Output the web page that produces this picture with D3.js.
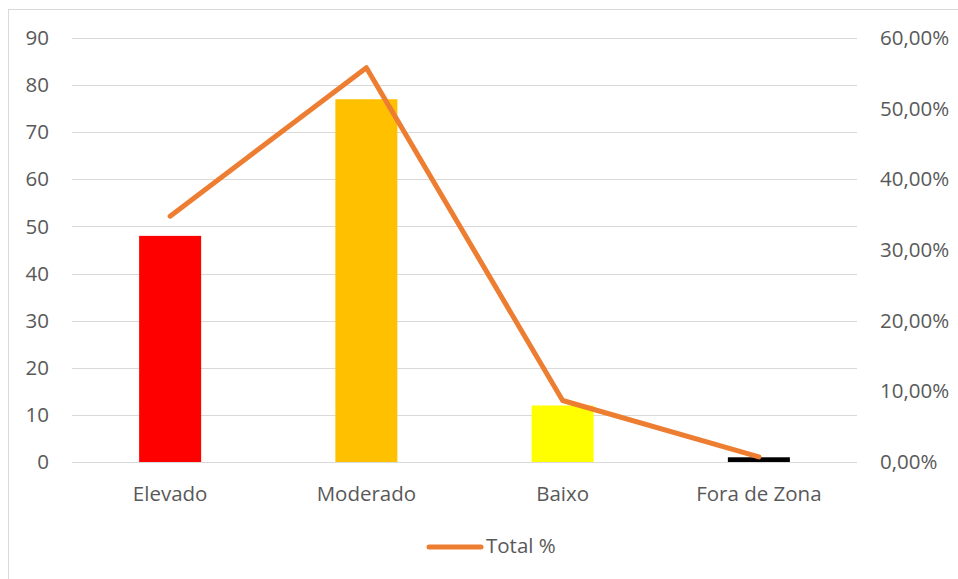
<!DOCTYPE html>
<html>
<head>
<meta charset="utf-8">
<script src="https://cdn.jsdelivr.net/npm/d3@7"></script>
<style>
  html, body { margin: 0; padding: 0; background: #fff; }
  svg { display: block; }
  svg text { font-family: "Open Sans", "Noto Sans", "DejaVu Sans"; }
</style>
</head>
<body>
<svg id="chart" width="958" height="579"></svg>
<script>
// Risk zone counts (bars, left axis) and share of total (line, right axis)
const categories = ["Elevado", "Moderado", "Baixo", "Fora de Zona"];
const counts = [48, 77, 12, 1];
const barColors = ["#FF0000", "#FFC000", "#FFFF00", "#000000"];
const totalPct = [0.3478, 0.5580, 0.0870, 0.0072];
const leftTicks = [0, 10, 20, 30, 40, 50, 60, 70, 80, 90];
const rightTicks = [0, 0.1, 0.2, 0.3, 0.4, 0.5, 0.6];
const lineLabel = "Total %";

const svg = d3.select("#chart");
const W = 958, H = 579;
const plot = { left: 72, right: 857, top: 38, bottom: 462 };
const FS = 20.5;
const FONT = '"Open Sans", "Noto Sans", "DejaVu Sans"';
const TEXT = "#595959";

// outer chart frame
svg.append("rect")
  .attr("x", 8.5).attr("y", 9.5)
  .attr("width", W + 10).attr("height", H + 10)
  .attr("fill", "#fff").attr("stroke", "#d9d9d9").attr("stroke-width", 1);

const x = d3.scaleBand().domain(categories).range([plot.left, plot.right]).paddingInner(0.684).paddingOuter(0.342);
const xc = d3.scaleBand().domain(categories).range([plot.left, plot.right]);
const yL = d3.scaleLinear().domain([0, 90]).range([plot.bottom, plot.top]);
const yR = d3.scaleLinear().domain([0, 0.6]).range([plot.bottom, plot.top]);

// horizontal gridlines
svg.append("g").selectAll("line").data(leftTicks).join("line")
  .attr("x1", plot.left).attr("x2", plot.right)
  .attr("y1", d => Math.round(yL(d)) + 0.5).attr("y2", d => Math.round(yL(d)) + 0.5)
  .attr("stroke", "#d9d9d9").attr("stroke-width", 1);

const fmtPct = v => (v * 100).toFixed(2).replace(".", ",") + "%";

function styleAxis(g) {
  g.attr("font-family", FONT).attr("font-size", FS);
  g.select(".domain").remove();
  g.selectAll("text").attr("fill", TEXT).attr("font-family", FONT).attr("font-size", FS);
}

// left axis
svg.append("g").attr("transform", `translate(49,0)`)
  .call(d3.axisLeft(yL).tickValues(leftTicks).tickSize(0).tickPadding(0))
  .call(styleAxis);

// right axis
svg.append("g").attr("transform", `translate(880,0)`)
  .call(d3.axisRight(yR).tickValues(rightTicks).tickFormat(fmtPct).tickSize(0).tickPadding(0))
  .call(styleAxis);

// category axis
svg.append("g").attr("transform", `translate(0,501)`)
  .call(d3.axisBottom(xc).tickSize(0).tickPadding(0))
  .call(styleAxis)
  .selectAll("text").attr("y", 0).attr("dy", 0);

// bars
svg.append("g").selectAll("rect").data(categories).join("rect")
  .attr("x", d => x(d))
  .attr("width", x.bandwidth())
  .attr("y", (d, i) => yL(counts[i]))
  .attr("height", (d, i) => yL(0) - yL(counts[i]))
  .attr("fill", (d, i) => barColors[i]);

// percentage line
const line = d3.line()
  .x((d, i) => xc(categories[i]) + xc.bandwidth() / 2)
  .y(d => yR(d));
svg.append("path").datum(totalPct)
  .attr("d", line)
  .attr("fill", "none")
  .attr("stroke", "#ED7D31")
  .attr("stroke-width", 5)
  .attr("stroke-linecap", "round")
  .attr("stroke-linejoin", "round");

// legend
const lg = svg.append("g");
lg.append("line")
  .attr("x1", 429).attr("x2", 481).attr("y1", 547).attr("y2", 547)
  .attr("stroke", "#ED7D31").attr("stroke-width", 5).attr("stroke-linecap", "round");
lg.append("text")
  .attr("x", 486).attr("y", 553)
  .attr("fill", TEXT).attr("font-family", FONT).attr("font-size", FS)
  .text(lineLabel);
</script>
</body>
</html>
